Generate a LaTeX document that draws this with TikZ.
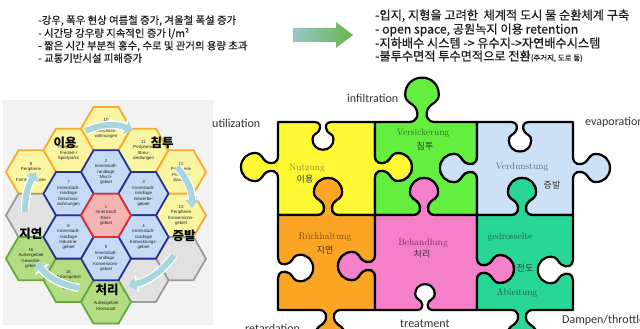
\documentclass[tikz,border=0pt]{standalone}
\usepackage{fontspec}
\newfontfamily\kr{Noto Sans CJK KR}
\newfontfamily\krt{Noto Sans CJK KR}[FakeBold=0.6]
\newfontfamily\carf{Carlito}
\newfontfamily\hexf{Liberation Sans}
\usetikzlibrary{shapes.geometric,arrows.meta}

\definecolor{txt}{RGB}{30,30,30}
\definecolor{pyel}{RGB}{255,248,50}
\definecolor{pgrn}{RGB}{100,238,62}
\definecolor{pblu}{RGB}{204,224,248}
\definecolor{pora}{RGB}{250,166,36}
\definecolor{ppnk}{RGB}{245,128,202}
\definecolor{ptea}{RGB}{40,214,150}
\definecolor{hy}{RGB}{250,245,160}
\definecolor{hyb}{RGB}{245,170,50}
\definecolor{hb}{RGB}{196,218,245}
\definecolor{hbb}{RGB}{40,50,150}
\definecolor{hr}{RGB}{245,180,180}
\definecolor{hrb}{RGB}{225,45,50}
\definecolor{hg}{RGB}{180,220,130}
\definecolor{hgb}{RGB}{100,170,60}
\definecolor{hgr}{RGB}{225,225,225}
\definecolor{hgrb}{RGB}{155,155,155}
\definecolor{arr}{RGB}{168,214,222}
\definecolor{bgg}{RGB}{242,242,242}
\definecolor{gNut}{RGB}{140,132,50}
\definecolor{gVer}{RGB}{40,110,40}
\definecolor{gVdu}{RGB}{90,100,135}
\definecolor{gRue}{RGB}{120,70,20}
\definecolor{gBeh}{RGB}{130,40,100}
\definecolor{gAbl}{RGB}{20,100,70}
\definecolor{arL}{RGB}{150,200,205}
\definecolor{arR}{RGB}{105,180,70}

\newcommand\knobpath{-- (-11,0) .. controls (-4,0) and (-2,6) .. (-5.5,12) .. controls (-8,16) and (-14,16) .. (-14,23) .. controls (-14,31) and (-8,37) .. (0,37) .. controls (8,37) and (14,31) .. (14,23) .. controls (14,16) and (8,16) .. (5.5,12) .. controls (2,6) and (4,0) .. (11,0)}
\newcommand\knob[5]{{[shift={(#1,#2)},rotate=#3,yscale=#4,scale=#5] \knobpath}}

\tikzset{
  tl/.style={anchor=base west, inner sep=0pt, text=txt, font=\krt\fontsize{10.4}{13}\selectfont},
  tr/.style={anchor=base west, inner sep=0pt, text=txt, font=\krt\fontsize{12.2}{14}\selectfont},
  piece/.style={draw=black, line width=2.2pt, line join=round},
  hexbase/.style={regular polygon, regular polygon sides=6, minimum size=50pt, inner sep=0pt, line width=1.8pt},
  hexY/.style={hexbase, fill=hy, draw=hyb},
  hexB/.style={hexbase, fill=hb, draw=hbb},
  hexR/.style={hexbase, fill=hr, draw=hrb},
  hexG/.style={hexbase, fill=hg, draw=hgb},
  hexN/.style={hexbase, fill=hgr, draw=hgrb},
  hext/.style={align=center, inner sep=0pt, text=black!85, font=\hexf\fontsize{4.4}{5.4}\selectfont},
  ringw/.style={line width=8.5pt, white, -{Triangle[width=17pt,length=10pt]}},
  ringc/.style={line width=6pt, arr, -{Triangle[width=13pt,length=8pt]}},
  hkr/.style={inner sep=0pt, font=\kr\bfseries\fontsize{12.5}{13}\selectfont, text=black},
  eng/.style={anchor=west, inner sep=0pt, text=black!80, font=\carf\fontsize{12}{13}\selectfont},
  ger/.style={inner sep=0pt, font=\fontsize{9.5}{10}\selectfont},
  pkr/.style={inner sep=0pt, text=black!80, font=\kr\fontsize{9}{10}\selectfont}
}

\begin{document}
\begin{tikzpicture}[x=1pt,y=-1pt]
\useasboundingbox (0,0) rectangle (640,329);
\clip (0,0) rectangle (640,329);
\fill[white] (0,0) rectangle (640,329);

% ---------- top texts ----------
\node[tl] (tl1) at (38,24) {-강우, 폭우 현상 여름철 증가, 겨울철 폭설 증가};
\node[tl] (tl2) at (38,37) {- 시간당 강우량 지속적인 증가 l/m²};
\node[tl] (tl3) at (38,49.5) {- 짧은 시간 부분적 홍수, 수로 및 관거의 용량 초과};
\node[tl] (tl4) at (38,62) {- 교통기반시설 피해증가};

\shade[left color=arL, right color=arR] (293,28) -- (336,28) -- (336,22) -- (353,35) -- (336,48) -- (336,42) -- (293,42) -- cycle;

\node[tr] (tr1) at (375,19.6) {-입지, 지형을 고려한\ \ 체계적 도시 물 순환체계 구축};
\node[tr] (tr2) at (375,33.6) {- open space, 공원녹지 이용 retention};
\node[tr] (tr3) at (375,47.6) {-지하배수 시스템 -> 유수지->자연배수시스템};
\node[tr] (tr4) at (375,60.6) {-불투수면적 투수면적으로 전환{\fontsize{7.5}{8}\selectfont(주거지, 도로 등)}};

% ---------- hexagon picture ----------
\fill[bgg] (3,100) rectangle (213,325);
\node[hexY] (h10) at (106,128.7) {};
\node[hexY] (h11) at (143.5,150.35) {};
\node[hexY] (h9)  at (68.5,150.35) {};
\node[hexY] (h12) at (181,172) {};
\node[hexY] (h13) at (181,215.3) {};
\node[hexY] (h8)  at (31,172) {};
\node[hexN] (g1)  at (31,215.3) {};
\node[hexN] (g2)  at (181,258.6) {};
\node[hexN] (g3)  at (143.5,280.25) {};
\node[hexG] (h16) at (31,258.6) {};
\node[hexG] (h15) at (68.5,280.25) {};
\node[hexG] (h14) at (106,301.9) {};
\node[hexB] (h2)  at (106,172) {};
\node[hexB] (h3)  at (143.5,193.65) {};
\node[hexB] (h4)  at (143.5,236.95) {};
\node[hexB] (h5)  at (106,258.6) {};
\node[hexB] (h6)  at (68.5,236.95) {};
\node[hexB] (h7)  at (68.5,193.65) {};
\node[hexR] (h1)  at (106,215.3) {};

\node[hext] (t1)  at (h1)  {1\\Innenstadt\\Kern-\\gebiet};
\node[hext] (t2)  at (h2)  {2\\Innenstadt-\\randlage\\Misch-\\gebiet};
\node[hext] (t3)  at (h3)  {3\\Innenstadt-\\randlage\\Gewerbe-\\gebiet};
\node[hext] (t4)  at (h4)  {4\\Innenstadt-\\randlage\\Entwicklungs-\\gebiet};
\node[hext] (t5)  at (h5)  {5\\Innenstadt-\\randlage\\Konversions-\\gebiet};
\node[hext] (t6)  at (h6)  {6\\Innenstadt-\\randlage\\Industrie-\\gebiet};
\node[hext] (t7)  at (h7)  {7\\Innenstadt-\\randlage\\Geschoss-\\wohnungen};
\node[hext] (t8)  at (h8)  {8\\Peripherie\\1-\\Familienhäuser};
\node[hext] (t9)  at (h9)  {9\\Peripherie\\Freizeit-/\\Sportparks};
\node[hext] (t10) at (h10) {10\\Peripherie\\Geschoss-\\wohnungen};
\node[hext] (t11) at (h11) {11\\Peripherie\\Streu-\\siedlungen};
\node[hext] (t12) at (h12) {12\\Peripherie\\Projekte-\\standort};
\node[hext] (t13) at (h13) {13\\Peripherie\\Konversions-\\gebiet};
\node[hext] (t14) at (106,306) {Außengebiet\\Kleinstadt};
\node[hext] (t15) at (h15) {15\\Außengebiet\\Wohn-\\gebiet};
\node[hext] (t16) at (h16) {16\\Außengebiet\\Gewerbe-\\gebiet};

\coordinate (a1s) at (86,131);  \coordinate (a1e) at (133,131);
\coordinate (a2s) at (177,167); \coordinate (a2e) at (192,208);
\coordinate (a3s) at (174,255); \coordinate (a3e) at (128,286);
\coordinate (a4s) at (79,288);  \coordinate (a4e) at (36,262);
\coordinate (a5s) at (25,212);  \coordinate (a5e) at (36,172);
\foreach \s/\e/\b in {a1s/a1e/25,a2s/a2e/20,a3s/a3e/20,a4s/a4e/20,a5s/a5e/15}{
  \draw[ringw] (\s) to[bend left=\b] (\e);
  \draw[ringc] (\s) to[bend left=\b] (\e);
}

\node[hkr] (k1) at (65,143) {이용};
\node[hkr] (k2) at (162,143) {침투};
\node[hkr] (k3) at (184,236) {증발};
\node[hkr] (k4) at (31,234) {지연};
\node[hkr] (k5) at (107,290) {처리};

% ---------- puzzle ----------
\path[piece, fill=pyel] (278,122) \knob{323}{122}{0}{1}{0.75} -- (375,122) \knob{375}{167}{-90}{-1}{1} -- (375,215) \knob{328}{215}{180}{1}{1} -- (278,215) \knob{278}{167}{90}{-1}{1} -- cycle;
\path[piece, fill=pgrn] (375,122) \knob{422}{122}{0}{-1}{1.2} -- (477,122) \knob{477}{168}{-90}{1}{1} -- (477,215) \knob{424}{215}{180}{1}{1} -- (375,215) \knob{375}{167}{90}{1}{1} -- cycle;
\path[piece, fill=pblu] (477,122) \knob{520}{122}{0}{1}{0.8} -- (573,122) \knob{573}{168}{-90}{-1}{1} -- (573,215) \knob{522}{215}{180}{1}{1} -- (477,215) \knob{477}{168}{90}{-1}{1} -- cycle;
\path[piece, fill=pora] (278,215) \knob{328}{215}{0}{-1}{1} -- (375,215) \knob{375}{266}{-90}{1}{1} -- (375,310) \knob{330}{310}{180}{-1}{1} -- (278,310) \knob{278}{268}{90}{1}{0.95} -- cycle;
\path[piece, fill=ppnk] (375,215) \knob{424}{215}{0}{-1}{1} -- (477,215) \knob{477}{269}{-90}{-1}{1} -- (477,310) \knob{425}{310}{180}{1}{0.7} -- (375,310) \knob{375}{266}{90}{-1}{1} -- cycle;
\path[piece, fill=ptea] (477,215) \knob{522}{215}{0}{-1}{1} -- (573,215) \knob{573}{270}{-90}{1}{0.95} -- (573,310) \knob{522}{310}{180}{-1}{1} -- (477,310) \knob{477}{269}{90}{1}{1} -- cycle;

\node[ger, text=gNut] (n1) at (307,168) {Nutzung};
\node[pkr] (n1k) at (305,179) {이용};
\node[ger, text=gVer] (n2) at (423,133) {Versickerung};
\node[pkr] (n2k) at (425,146) {침투};
\node[ger, text=gVdu] (n3) at (522,167) {Verdunstung};
\node[pkr] (n3k) at (552,185) {증발};
\node[ger, text=gRue] (n4) at (325,237) {Rückhaltung};
\node[pkr] (n4k) at (325,250) {지연};
\node[ger, text=gBeh] (n5) at (423,243) {Behandlung};
\node[pkr] (n5k) at (422,254) {처리};
\node[ger, text=gAbl] (n6) at (510,237) {gedrosselte};
\node[pkr] (n6k) at (525,268) {전도};
\node[ger, text=gAbl] (n6b) at (517,293) {Ableitung};

\node[eng] (e1) at (212,123) {utilization};
\node[eng] (e2) at (347,98) {infiltration};
\node[eng] (e3) at (585,122) {evaporation};
\node[eng] (e4) at (245,328) {retardation};
\node[eng] (e5) at (400,324) {treatment};
\node[eng] (e6) at (562,320) {Dampen/throttle};
\end{tikzpicture}
\end{document}
